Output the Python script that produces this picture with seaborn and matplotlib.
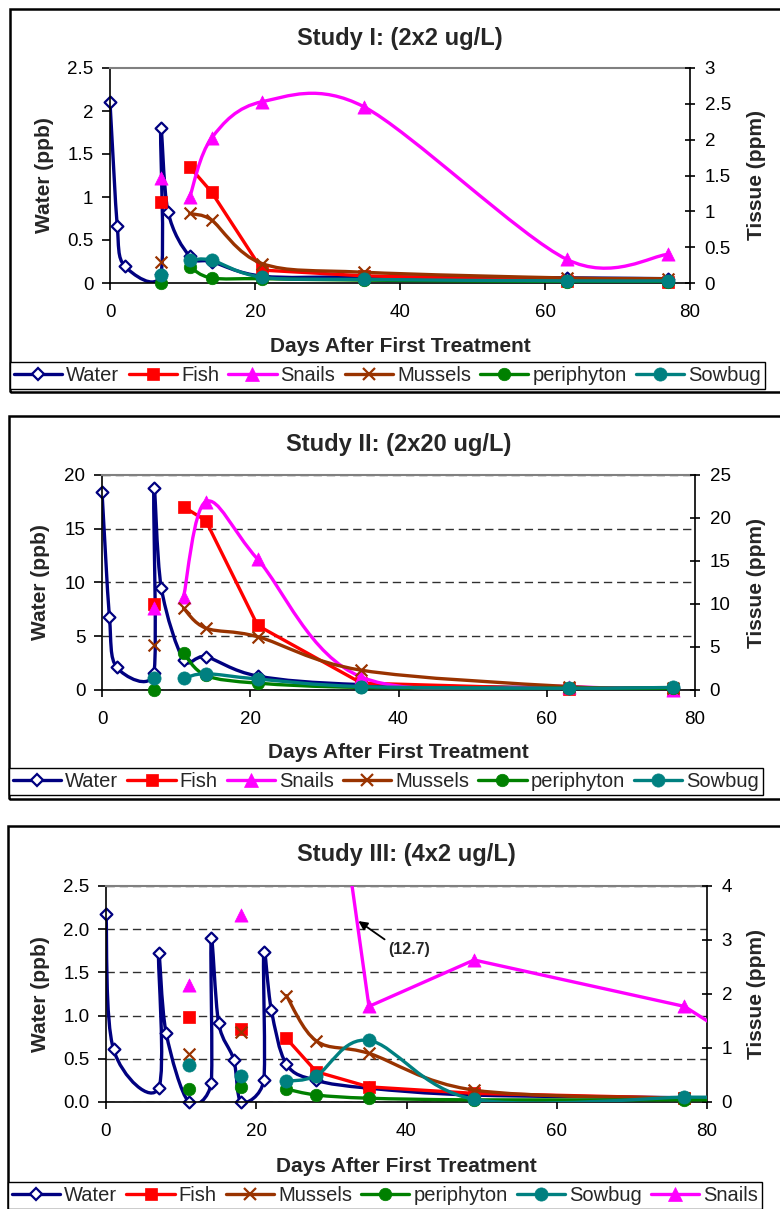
import numpy as np
import pandas as pd
import matplotlib
matplotlib.use("Agg")
import matplotlib.pyplot as plt
import seaborn as sns
from matplotlib.path import Path
from matplotlib.patches import PathPatch, Rectangle
from matplotlib.lines import Line2D

nan = np.nan

# ----------------------------- data ---------------------------------
titles = ["Study I: (2x2 ug/L)", "Study II: (2x20 ug/L)", "Study III: (4x2 ug/L)"]
x_label = "Days After First Treatment"
left_label = "Water (ppb)"
right_label = "Tissue (ppm)"

# Study I
s1_water_days = [0, 1, 2, 7, 7, 8, 11, 14, 21, 35, 63, 77]
s1_water = [2.10, 0.66, 0.20, 0.10, 1.80, 0.83, 0.31, 0.25, 0.08, 0.07, 0.06, 0.05]
s1_tissue_days = [7, 8, 11, 14, 21, 35, 63, 77]
s1_fish = [1.13, nan, 1.62, 1.27, 0.18, 0.10, 0.03, 0.02]
s1_snails = [1.46, nan, 1.20, 2.02, 2.53, 2.46, 0.33, 0.40]
s1_mussels = [0.30, nan, 0.97, 0.88, 0.27, 0.15, 0.07, 0.06]
s1_periphyton = [0.00, nan, 0.22, 0.07, 0.06, 0.04, 0.02, 0.02]
s1_sowbug = [0.11, nan, 0.32, 0.32, 0.08, 0.05, 0.03, 0.03]

# Study II
s2_water_days = [0, 1, 2, 7, 7, 8, 11, 14, 21, 35, 63, 77]
s2_water = [18.45, 6.8, 2.1, 1.6, 18.8, 9.5, 2.8, 3.1, 1.3, 0.5, 0.2, 0.2]
s2_tissue_days = [7, 8, 11, 14, 21, 35, 63, 77]
s2_fish = [10.0, nan, 21.3, 19.7, 7.5, 0.8, 0.1, 0.0]
s2_snails = [9.5, nan, 10.8, 21.9, 15.2, 1.5, 0.4, 0.0]
s2_mussels = [5.2, nan, 9.5, 7.2, 6.2, 2.3, 0.4, 0.2]
s2_periphyton = [0.0, nan, 4.3, 1.7, 0.8, 0.3, 0.2, 0.2]
s2_sowbug = [1.36, nan, 1.36, 1.9, 1.28, 0.4, 0.2, 0.3]

# Study III
s3_water_days = [0, 1, 7, 7, 8, 11, 14, 14, 15, 17, 18, 21, 21, 22, 24, 28, 35, 49, 77, 84]
s3_water = [2.18, 0.61, 0.16, 1.72, 0.80, 0.0, 0.22, 1.90, 0.91, 0.49, 0.0,
            0.25, 1.74, 1.07, 0.44, 0.25, 0.16, 0.08, 0.05, 0.04]
s3_tissue_days = [11, 14, 18, 21, 24, 28, 35, 49, 77, 84]
s3_fish = [1.58, nan, 1.36, nan, 1.18, 0.56, 0.28, 0.16, 0.07, 0.06]
s3_mussels = [0.89, nan, 1.30, nan, 1.97, 1.13, 0.90, 0.22, 0.07, 0.06]
s3_periphyton = [0.25, nan, 0.27, nan, 0.24, 0.13, 0.07, 0.04, 0.04, 0.04]
s3_sowbug = [0.69, nan, 0.49, nan, 0.39, 0.49, 1.14, 0.05, 0.09, 0.08]
s3_snail_days = [11, 14, 18, 21, 24, 35, 49, 77, 84]
s3_snails = [2.17, nan, 3.46, nan, 12.7, 1.77, 2.63, 1.77, 1.15]
s3_snail_peak = 12.7

# ticks
x_ticks = [0, 20, 40, 60, 80]
x_tick_labels = ["0", "20", "40", "60", "80"]
s1_left_ticks = [0, 0.5, 1, 1.5, 2, 2.5]
s1_left_labels = ["0", "0.5", "1", "1.5", "2", "2.5"]
s1_right_ticks = [0, 0.5, 1, 1.5, 2, 2.5, 3]
s1_right_labels = ["0", "0.5", "1", "1.5", "2", "2.5", "3"]
s2_left_ticks = [0, 5, 10, 15, 20]
s2_left_labels = ["0", "5", "10", "15", "20"]
s2_right_ticks = [0, 5, 10, 15, 20, 25]
s2_right_labels = ["0", "5", "10", "15", "20", "25"]
s3_left_ticks = [0, 0.5, 1.0, 1.5, 2.0, 2.5]
s3_left_labels = ["0.0", "0.5", "1.0", "1.5", "2.0", "2.5"]
s3_right_ticks = [0, 1, 2, 3, 4]
s3_right_labels = ["0", "1", "2", "3", "4"]

# ----------------------------- styles -------------------------------
STYLE = {
    "Water": dict(color="#000080", marker="D", size=6.0, face="white", mew=1.6),
    "Fish": dict(color="#FF0000", marker="s", size=9.0, face="#FF0000", mew=0.5),
    "Snails": dict(color="#FF00FF", marker="^", size=9.5, face="#FF00FF", mew=0.5),
    "Mussels": dict(color="#993300", marker="x", size=8.5, face="#993300", mew=1.6),
    "periphyton": dict(color="#008000", marker="o", size=9.0, face="#008000", mew=0.5),
    "Sowbug": dict(color="#008080", marker="o", size=9.5, face="#008080", mew=0.5),
}
LW = 2.4
FONT_TICK = 13.5
FONT_LABEL = 15
FONT_TITLE = 17
FONT_LEG = 14.5

W, H = 780, 1209

sns.set_theme(style="white")
plt.rcParams["font.family"] = ["Liberation Sans", "DejaVu Sans"]
plt.rcParams["axes.unicode_minus"] = False

fig = plt.figure(figsize=(W / 100, H / 100), dpi=100)
fig.patch.set_facecolor("white")


def fx(x):
    return x / W


def fy(y):
    return 1 - y / H


def smooth_path(x, y, sx, sy):
    """Excel-like smoothed Bezier through the points (control arms capped
    at half of the shorter neighbouring segment, measured in pixels)."""
    p = np.column_stack([x, y])
    q = p * np.array([sx, sy])
    n = len(p)
    tang = np.zeros_like(p)
    for i in range(n):
        if i == 0:
            tang[i] = (p[1] - p[0]) / 6.0
        elif i == n - 1:
            tang[i] = (p[i] - p[i - 1]) / 6.0
        else:
            T = p[i + 1] - p[i - 1]
            L = np.hypot(*(q[i + 1] - q[i - 1]))
            d01 = np.hypot(*(q[i] - q[i - 1]))
            d12 = np.hypot(*(q[i + 1] - q[i]))
            f = 1.0 / 6.0
            if L > 0:
                f = min(f, d01 / (2 * L), d12 / (2 * L))
            tang[i] = T * f
    verts = [p[0]]
    codes = [Path.MOVETO]
    for i in range(n - 1):
        verts += [p[i] + tang[i], p[i + 1] - tang[i + 1], p[i + 1]]
        codes += [Path.CURVE4] * 3
    return Path(np.array(verts), codes)


def draw_series(ax, days, vals, name, smooth, z, scale, ytop):
    st = STYLE[name]
    x = np.asarray(days, float)
    y = np.asarray(vals, float)
    ok = ~np.isnan(y)
    idx = np.flatnonzero(ok)
    groups = np.split(idx, np.where(np.diff(idx) != 1)[0] + 1)
    for g in groups:
        if len(g) < 2:
            continue
        if smooth:
            ax.add_patch(PathPatch(smooth_path(x[g], y[g], *scale), facecolor="none",
                                   edgecolor=st["color"], lw=LW, zorder=z,
                                   capstyle="round", joinstyle="round"))
        else:
            sns.lineplot(x=x[g], y=y[g], ax=ax, color=st["color"], linewidth=LW,
                         sort=False, estimator=None, zorder=z,
                         solid_capstyle="round", solid_joinstyle="round")
    vis = ok & (x <= 80) & (np.nan_to_num(y) <= ytop)
    df = pd.DataFrame({"day": x[vis], "val": y[vis]})
    if st["marker"] == "x":
        sns.scatterplot(data=df, x="day", y="val", ax=ax, marker="x",
                        s=st["size"] ** 2, color=st["color"], linewidth=st["mew"],
                        zorder=z + 0.5, legend=False, clip_on=False)
    else:
        sns.scatterplot(data=df, x="day", y="val", ax=ax, marker=st["marker"],
                        s=st["size"] ** 2, facecolor=st["face"], edgecolor=st["color"],
                        linewidth=st["mew"], zorder=z + 0.5, legend=False, clip_on=False)
    ax.set_xlabel("")
    ax.set_ylabel("")


def handle(name):
    st = STYLE[name]
    return Line2D([0], [0], color=st["color"], lw=LW, marker=st["marker"],
                  markersize=st["size"], markerfacecolor=st["face"],
                  markeredgecolor=st["color"], markeredgewidth=st["mew"])


panels = [
    dict(title=titles[0],
         water=(s1_water_days, s1_water),
         tissue=[("Fish", s1_tissue_days, s1_fish, False),
                 ("Snails", s1_tissue_days, s1_snails, True),
                 ("Mussels", s1_tissue_days, s1_mussels, True),
                 ("periphyton", s1_tissue_days, s1_periphyton, True),
                 ("Sowbug", s1_tissue_days, s1_sowbug, True)],
         lt=s1_left_ticks, ll=s1_left_labels, rt=s1_right_ticks, rl=s1_right_labels,
         grid=False,
         box=(110, 68, 690, 283), frame=(10, 9, 800, 392), title_y=38, xlabel_y=347,
         ylab_x=(45, 757), legend=(10, 362, 765, 392)),
    dict(title=titles[1],
         water=(s2_water_days, s2_water),
         tissue=[("Fish", s2_tissue_days, s2_fish, False),
                 ("Snails", s2_tissue_days, s2_snails, True),
                 ("Mussels", s2_tissue_days, s2_mussels, True),
                 ("periphyton", s2_tissue_days, s2_periphyton, True),
                 ("Sowbug", s2_tissue_days, s2_sowbug, True)],
         lt=s2_left_ticks, ll=s2_left_labels, rt=s2_right_ticks, rl=s2_right_labels,
         grid=True,
         box=(102, 475, 695, 690), frame=(9, 416, 800, 799), title_y=444, xlabel_y=752,
         ylab_x=(40, 757), legend=(9, 768, 763, 799)),
    dict(title=titles[2],
         water=(s3_water_days, s3_water),
         tissue=[("Fish", s3_tissue_days, s3_fish, False),
                 ("Mussels", s3_tissue_days, s3_mussels, True),
                 ("periphyton", s3_tissue_days, s3_periphyton, True),
                 ("Sowbug", s3_tissue_days, s3_sowbug, True),
                 ("Snails", s3_snail_days, s3_snails, False)],
         lt=s3_left_ticks, ll=s3_left_labels, rt=s3_right_ticks, rl=s3_right_labels,
         grid=True,
         box=(106, 886, 707, 1102), frame=(8, 826, 800, 1220), title_y=855, xlabel_y=1166,
         ylab_x=(40, 757), legend=(8, 1182, 762, 1211)),
]

for k, P in enumerate(panels):
    fx0, fy0, fx1, fy1 = P["frame"]
    fig.add_artist(Rectangle((fx(fx0), fy(fy1)), (fx1 - fx0) / W, (fy1 - fy0) / H,
                             transform=fig.transFigure, fill=False, ec="black",
                             lw=1.8, zorder=0))
    x0, y0, x1, y1 = P["box"]
    ax = fig.add_axes([fx(x0), fy(y1), (x1 - x0) / W, (y1 - y0) / H])
    ax.patch.set_alpha(0)
    ax2 = ax.twinx()

    sx = (x1 - x0) / 80.0
    sy_left = (y1 - y0) / (P["lt"][-1] - P["lt"][0])
    sy_right = (y1 - y0) / (P["rt"][-1] - P["rt"][0])

    draw_series(ax, P["water"][0], P["water"][1], "Water", True, 2,
                (sx, sy_left), P["lt"][-1])
    for i, (name, d, v, sm) in enumerate(P["tissue"]):
        draw_series(ax2, d, v, name, sm, 3 + 2 * i, (sx, sy_right), P["rt"][-1])

    ax.set_xlim(0, 80)
    ax.set_ylim(P["lt"][0], P["lt"][-1])
    ax2.set_ylim(P["rt"][0], P["rt"][-1])
    ax.set_xticks(x_ticks)
    ax.set_xticklabels(x_tick_labels)
    ax.set_yticks(P["lt"])
    ax.set_yticklabels(P["ll"])
    ax2.set_yticks(P["rt"])
    ax2.set_yticklabels(P["rl"])

    ax.tick_params(axis="x", bottom=True, direction="out", length=5, width=1.2,
                   pad=10, labelsize=FONT_TICK, colors="black")
    ax.tick_params(axis="y", left=True, right=False, direction="out", length=6,
                   width=1.2, pad=6, labelsize=FONT_TICK, colors="black")
    ax2.tick_params(axis="y", right=True, left=False, direction="inout", length=7,
                    width=1.2, pad=7, labelsize=FONT_TICK, colors="black")

    for s in ("left", "bottom"):
        ax.spines[s].set_color("black")
        ax.spines[s].set_linewidth(1.2)
    ax.spines["top"].set_color("#808080")
    ax.spines["top"].set_linewidth(1.5)
    ax.spines["right"].set_visible(False)
    for s in ("left", "bottom", "top"):
        ax2.spines[s].set_visible(False)
    ax2.spines["right"].set_color("black")
    ax2.spines["right"].set_linewidth(1.2)

    if P["grid"]:
        ax.set_axisbelow(True)
        ax.yaxis.grid(True, color="#303030", lw=1.0, linestyle=(0, (6, 3.5)))
    else:
        ax.grid(False)
    ax.xaxis.grid(False)
    ax2.grid(False)

    cx = (x0 + x1) / 2
    fig.text(fx(cx), fy(P["title_y"]), P["title"], ha="center", va="center",
             fontsize=FONT_TITLE, fontweight="bold")
    fig.text(fx(cx), fy(P["xlabel_y"]), x_label, ha="center", va="center",
             fontsize=FONT_LABEL, fontweight="bold")
    cy = (y0 + y1) / 2
    fig.text(fx(P["ylab_x"][0]), fy(cy), left_label, ha="center", va="center",
             rotation=90, fontsize=FONT_LABEL, fontweight="bold")
    fig.text(fx(P["ylab_x"][1]), fy(cy), right_label, ha="center", va="center",
             rotation=90, fontsize=FONT_LABEL, fontweight="bold")

    order = ["Water"] + [t[0] for t in P["tissue"]]
    lx0, ly0, lx1, ly1 = P["legend"]
    leg = fig.legend([handle(n) for n in order], order, loc="upper left",
                     bbox_to_anchor=(fx(lx0), fy(ly1), (lx1 - lx0) / W, (ly1 - ly0) / H),
                     mode="expand", ncol=6, borderaxespad=0, fontsize=FONT_LEG,
                     handlelength=2.4, handletextpad=0.2, columnspacing=0.3,
                     borderpad=0.2, frameon=True, fancybox=False, framealpha=1)
    leg.get_frame().set_edgecolor("black")
    leg.get_frame().set_linewidth(1.0)

    if k == 2:
        ax2.annotate(f"({s3_snail_peak:.1f})", xy=(33.6, 3.35), xytext=(40.3, 2.83),
                     ha="center", va="center", fontsize=11.5, fontweight="bold",
                     arrowprops=dict(arrowstyle="-|>", color="black", lw=1.3,
                                     relpos=(0, 1), shrinkA=0, shrinkB=0,
                                     mutation_scale=13),
                     zorder=20)

fig.savefig("out.png", dpi=100, facecolor="white")
